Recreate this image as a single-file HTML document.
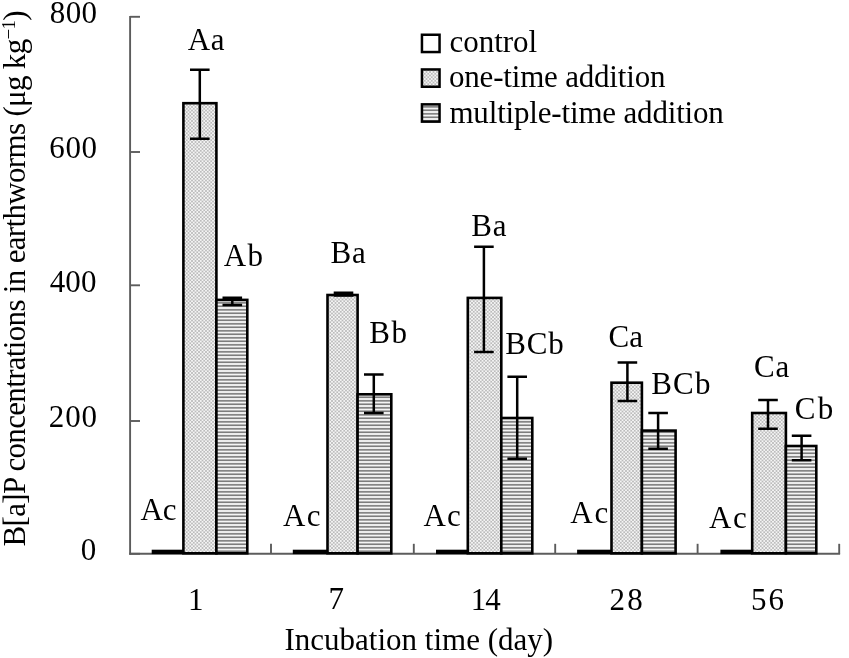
<!DOCTYPE html>
<html><head><meta charset="utf-8"><style>
html,body{margin:0;padding:0;background:#fff;overflow:hidden;}
svg{display:block;will-change:transform;}
text{font-family:"Liberation Serif",serif;fill:#000;}
</style></head><body>
<svg width="849" height="658" viewBox="0 0 849 658">
<defs>
<pattern id="dots" x="2.125" y="1.125" width="3.5" height="3.5" patternUnits="userSpaceOnUse">
<rect width="3.5" height="3.5" fill="#f5f5f5"/>
<rect width="1.75" height="1.75" fill="#bcbcbc"/>
<rect x="1.75" y="1.75" width="1.75" height="1.75" fill="#bcbcbc"/>
</pattern>
<pattern id="hstripe" width="8" height="3.5" patternUnits="userSpaceOnUse">
<rect width="8" height="3.5" fill="#f5f5f5"/>
<rect y="1.0" width="8" height="1.6" fill="#777"/>
</pattern>
</defs>

<g>
<rect width="849" height="658" fill="#fff"/>
<line x1="130.1" y1="15.9" x2="130.1" y2="554.6999999999999" stroke="#5c5c5c" stroke-width="1.9"/>
<line x1="129.2" y1="553.8" x2="840.1" y2="553.8" stroke="#5c5c5c" stroke-width="1.9"/>
<line x1="130.1" y1="16.8" x2="140" y2="16.8" stroke="#5c5c5c" stroke-width="1.9"/>
<line x1="130.1" y1="152.0" x2="140" y2="152.0" stroke="#5c5c5c" stroke-width="1.9"/>
<line x1="130.1" y1="285.3" x2="140" y2="285.3" stroke="#5c5c5c" stroke-width="1.9"/>
<line x1="130.1" y1="421.0" x2="140" y2="421.0" stroke="#5c5c5c" stroke-width="1.9"/>
<line x1="130.1" y1="553.8" x2="140" y2="553.8" stroke="#5c5c5c" stroke-width="1.9"/>
<line x1="271" y1="543.8" x2="271" y2="553.8" stroke="#5c5c5c" stroke-width="1.9"/>
<line x1="413.8" y1="543.8" x2="413.8" y2="553.8" stroke="#5c5c5c" stroke-width="1.9"/>
<line x1="555.2" y1="543.8" x2="555.2" y2="553.8" stroke="#5c5c5c" stroke-width="1.9"/>
<line x1="697.6" y1="543.8" x2="697.6" y2="553.8" stroke="#5c5c5c" stroke-width="1.9"/>
<line x1="839.2" y1="543.8" x2="839.2" y2="553.8" stroke="#5c5c5c" stroke-width="1.9"/>
<rect x="151.7" y="549.7" width="31.70" height="4.40" fill="#000"/>
<rect x="183.40" y="103.20" width="33.00" height="450.10" fill="url(#dots)" stroke="#000" stroke-width="2.6"/>
<rect x="216.40" y="299.90" width="30.90" height="253.40" fill="url(#hstripe)" stroke="#000" stroke-width="2.6"/>
<rect x="292.8" y="549.7" width="34.70" height="4.40" fill="#000"/>
<rect x="327.50" y="295.00" width="30.10" height="258.30" fill="url(#dots)" stroke="#000" stroke-width="2.6"/>
<rect x="357.60" y="394.30" width="33.70" height="159.00" fill="url(#hstripe)" stroke="#000" stroke-width="2.6"/>
<rect x="436.0" y="549.7" width="31.80" height="4.40" fill="#000"/>
<rect x="467.80" y="297.90" width="33.50" height="255.40" fill="url(#dots)" stroke="#000" stroke-width="2.6"/>
<rect x="501.30" y="418.00" width="31.00" height="135.30" fill="url(#hstripe)" stroke="#000" stroke-width="2.6"/>
<rect x="577.1" y="549.7" width="34.40" height="4.40" fill="#000"/>
<rect x="611.50" y="382.70" width="30.40" height="170.60" fill="url(#dots)" stroke="#000" stroke-width="2.6"/>
<rect x="641.90" y="430.60" width="33.70" height="122.70" fill="url(#hstripe)" stroke="#000" stroke-width="2.6"/>
<rect x="720.4" y="549.7" width="31.80" height="4.40" fill="#000"/>
<rect x="752.20" y="413.00" width="33.70" height="140.30" fill="url(#dots)" stroke="#000" stroke-width="2.6"/>
<rect x="785.90" y="446.00" width="30.40" height="107.30" fill="url(#hstripe)" stroke="#000" stroke-width="2.6"/>
<path d="M190.00 69.70H209.60M199.80 69.70V138.70M190.00 138.70H209.60" stroke="#000" stroke-width="2.5" fill="none"/>
<path d="M222.50 297.80H242.10M232.30 297.80V305.10M222.50 305.10H242.10" stroke="#000" stroke-width="2.5" fill="none"/>
<path d="M333.70 292.70H353.30M343.50 292.70V295.40M333.70 295.40H353.30" stroke="#000" stroke-width="2.5" fill="none"/>
<path d="M364.00 374.50H383.60M373.80 374.50V413.00M364.00 413.00H383.60" stroke="#000" stroke-width="2.5" fill="none"/>
<path d="M474.10 246.80H493.70M483.90 246.80V351.90M474.10 351.90H493.70" stroke="#000" stroke-width="2.5" fill="none"/>
<path d="M507.40 376.80H527.00M517.20 376.80V458.70M507.40 458.70H527.00" stroke="#000" stroke-width="2.5" fill="none"/>
<path d="M617.60 362.50H637.20M627.40 362.50V400.90M617.60 400.90H637.20" stroke="#000" stroke-width="2.5" fill="none"/>
<path d="M648.30 413.00H667.90M658.10 413.00V448.70M648.30 448.70H667.90" stroke="#000" stroke-width="2.5" fill="none"/>
<path d="M758.20 399.90H777.80M768.00 399.90V428.80M758.20 428.80H777.80" stroke="#000" stroke-width="2.5" fill="none"/>
<path d="M791.80 435.80H811.40M801.60 435.80V460.20M791.80 460.20H811.40" stroke="#000" stroke-width="2.5" fill="none"/>
<rect x="421.95" y="34.75" width="17.6" height="17.3" fill="#fff" stroke="#000" stroke-width="2.5"/>
<rect x="421.95" y="69.45" width="17.6" height="17.3" fill="url(#dots)" stroke="#000" stroke-width="2.5"/>
<rect x="421.95" y="104.35" width="17.6" height="17.3" fill="url(#hstripe)" stroke="#000" stroke-width="2.5"/>
<text x="449.52" y="52.26" font-size="31" textLength="87.63" lengthAdjust="spacing">control</text>
<text x="449.02" y="86.55" font-size="31" textLength="216.43" lengthAdjust="spacing">one-time addition</text>
<text x="449.42" y="122.58" font-size="31" textLength="274.44" lengthAdjust="spacing">multiple-time addition</text>
<text x="49.84" y="23.00" font-size="31" textLength="47.26" lengthAdjust="spacing">800</text>
<text x="49.34" y="158.48" font-size="31" textLength="47.76" lengthAdjust="spacing">600</text>
<text x="49.74" y="292.12" font-size="31" textLength="46.66" lengthAdjust="spacing">400</text>
<text x="48.84" y="427.38" font-size="31" textLength="48.26" lengthAdjust="spacing">200</text>
<text x="80.65" y="560.44" font-size="31">0</text>
<text x="188.10" y="609.82" font-size="31">1</text>
<text x="328.39" y="609.48" font-size="31">7</text>
<text x="470.80" y="609.84" font-size="31" textLength="29.98" lengthAdjust="spacing">14</text>
<text x="609.58" y="610.38" font-size="31" textLength="33.24" lengthAdjust="spacing">28</text>
<text x="750.94" y="610.38" font-size="31" textLength="33.02" lengthAdjust="spacing">56</text>
<text x="284.46" y="650.23" font-size="31" textLength="268.63" lengthAdjust="spacing">Incubation time (day)</text>
<text x="187.77" y="49.75" font-size="31" textLength="36.82" lengthAdjust="spacing">Aa</text>
<text x="223.83" y="266.37" font-size="31" textLength="39.29" lengthAdjust="spacing">Ab</text>
<text x="140.58" y="520.04" font-size="31" textLength="36.06" lengthAdjust="spacing">Ac</text>
<text x="330.55" y="263.07" font-size="31" textLength="35.18" lengthAdjust="spacing">Ba</text>
<text x="369.31" y="343.22" font-size="31" textLength="37.57" lengthAdjust="spacing">Bb</text>
<text x="283.07" y="525.53" font-size="31" textLength="37.36" lengthAdjust="spacing">Ac</text>
<text x="471.21" y="235.87" font-size="31" textLength="35.40" lengthAdjust="spacing">Ba</text>
<text x="505.31" y="353.90" font-size="31" textLength="58.52" lengthAdjust="spacing">BCb</text>
<text x="423.51" y="525.53" font-size="31" textLength="37.26" lengthAdjust="spacing">Ac</text>
<text x="608.50" y="346.53" font-size="31" textLength="34.56" lengthAdjust="spacing">Ca</text>
<text x="651.14" y="394.31" font-size="31" textLength="59.30" lengthAdjust="spacing">BCb</text>
<text x="570.33" y="523.37" font-size="31" textLength="37.96" lengthAdjust="spacing">Ac</text>
<text x="753.89" y="376.90" font-size="31" textLength="35.32" lengthAdjust="spacing">Ca</text>
<text x="794.70" y="418.75" font-size="31" textLength="38.47" lengthAdjust="spacing">Cb</text>
<text x="708.95" y="527.80" font-size="31" textLength="37.70" lengthAdjust="spacing">Ac</text>
<text transform="translate(25.45,546.40) rotate(-90)" font-size="31" textLength="536.10" lengthAdjust="spacing">B[a]P concentrations in earthworms (μg kg<tspan font-size="19" dy="-10.5">−1</tspan><tspan dy="10.5">)</tspan></text>
</g>
</svg>
</body></html>
